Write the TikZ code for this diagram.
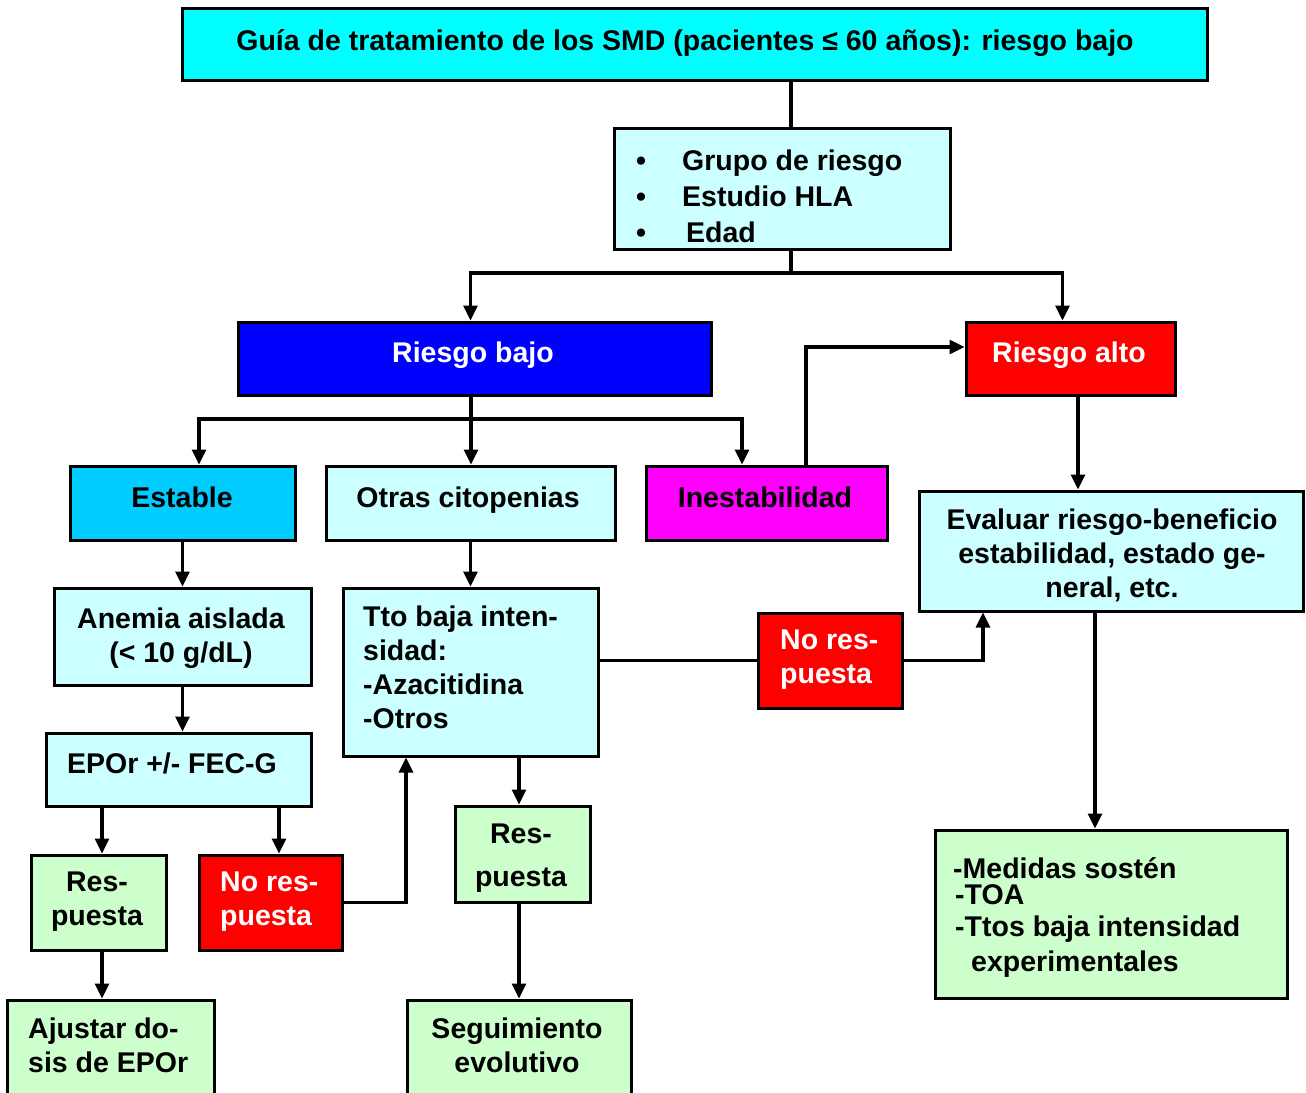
\documentclass[tikz,border=0pt]{standalone}
\usepackage{fontspec}
\setmainfont{Liberation Sans}
\usetikzlibrary{arrows.meta}
\definecolor{lcyan}{RGB}{204,255,255}
\definecolor{lgreen}{RGB}{204,255,204}
\definecolor{skyb}{RGB}{0,204,255}
\definecolor{pblue}{RGB}{0,0,255}
\definecolor{pred}{RGB}{255,0,0}
\definecolor{pmag}{RGB}{255,0,255}
\definecolor{pcyan}{RGB}{0,255,255}
\tikzset{
  box/.style={draw=black, line width=3pt, rectangle, inner sep=0pt},
  txt/.style={inner sep=0pt, font=\fontsize{28.5}{34}\selectfont\bfseries},
  wtxt/.style={txt, text=white},
  conn/.style={draw=black, line width=3.2pt},
  arr/.style={conn, -{Triangle[width=14pt,length=15pt]}},
}
\begin{document}
\begin{tikzpicture}[x=1pt,y=-1pt]
\useasboundingbox (0,0) rectangle (1306,1092);
\fill[white] (0,0) rectangle (1306,1092);
\clip (0,0) rectangle (1306,1092);
% boxes
\node[box, fill=pcyan, minimum width=1025, minimum height=72] (title) at (694.5,44) {};
\node[box, fill=lcyan, minimum width=336, minimum height=121] (grupo) at (782,188.5) {};
\node[box, fill=pblue, minimum width=473, minimum height=73] (rbajo) at (474.5,358.5) {};
\node[box, fill=pred, minimum width=209, minimum height=73] (ralto) at (1070.5,358.5) {};
\node[box, fill=skyb, minimum width=225, minimum height=74] (estable) at (182.5,503) {};
\node[box, fill=lcyan, minimum width=289, minimum height=74] (otras) at (470.5,503) {};
\node[box, fill=pmag, minimum width=241, minimum height=74] (inest) at (766.5,503) {};
\node[box, fill=lcyan, minimum width=384, minimum height=120] (evaluar) at (1111,551) {};
\node[box, fill=lcyan, minimum width=257, minimum height=97] (anemia) at (182.5,636.5) {};
\node[box, fill=lcyan, minimum width=265, minimum height=73] (epor) at (178.5,769.5) {};
\node[box, fill=lgreen, minimum width=135, minimum height=95] (resp1) at (98.5,902.5) {};
\node[box, fill=pred, minimum width=143, minimum height=95] (nores1) at (270.5,902.5) {};
\node[box, fill=lgreen, minimum width=207, minimum height=110] (ajustar) at (110.5,1055) {};
\node[box, fill=lcyan, minimum width=255, minimum height=168] (tto) at (470.5,672) {};
\node[box, fill=pred, minimum width=144, minimum height=95] (nores2) at (830,660.5) {};
\node[box, fill=lgreen, minimum width=135, minimum height=96] (resp2) at (522.5,854) {};
\node[box, fill=lgreen, minimum width=224, minimum height=110] (segui) at (519,1055) {};
\node[box, fill=lgreen, minimum width=352, minimum height=168] (medidas) at (1111,914) {};
% texts
\node[txt, anchor=base] (title-t) at (685,50) {Guía de tratamiento de los SMD (pacientes ≤ 60 años): riesgo bajo};
\node[txt, anchor=west, align=left] (grupo-t) at (636,196) {\makebox[46pt][l]{•}Grupo de riesgo\\[2pt]\makebox[46pt][l]{•}Estudio HLA\\[2pt]\makebox[50pt][l]{•}Edad};
\node[wtxt, anchor=base] (rbajo-t) at (473,362) {Riesgo bajo};
\node[wtxt, anchor=base] (ralto-t) at (1069,362) {Riesgo alto};
\node[txt, anchor=base] (estable-t) at (182,507) {Estable};
\node[txt, anchor=base] (otras-t) at (468,507) {Otras citopenias};
\node[txt, anchor=base] (inest-t) at (765,507) {Inestabilidad};
\node[txt, align=center] (evaluar-t) at (1112,555) {Evaluar riesgo-beneficio\\estabilidad, estado ge-\\neral, etc.};
\node[txt, align=center] (anemia-t) at (181,638) {Anemia aislada\\(< 10 g/dL)};
\node[txt, anchor=base] (epor-t) at (172,773) {EPOr +/- FEC-G};
\node[txt, align=center] (resp1-t) at (97,902) {Res-\\puesta};
\node[wtxt, align=left, anchor=west] (nores1-t) at (220,902) {No res-\\puesta};
\node[txt, align=left, anchor=west] (ajustar-t) at (28,1045) {Ajustar do-\\sis de EPOr};
\node[txt, align=left, anchor=west] (tto-t) at (363,667) {Tto baja inten-\\sidad:\\-Azacitidina\\-Otros};
\node[wtxt, align=left, anchor=west] (nores2-t) at (780,660) {No res-\\puesta};
\node[txt, align=center] (resp2-t) at (521,858) {Res-\\[9pt]puesta};
\node[txt, align=center] (segui-t) at (517,1045) {Seguimiento\\evolutivo};
\node[txt, align=left, anchor=west] (medidas-t) at (953,917) {-Medidas sostén\\[-8pt]\hspace*{2pt}-TOA\\[-2pt]\hspace*{2pt}-Ttos baja intensidad\\[1pt]\hspace*{18pt}experimentales};
% connectors
\coordinate (xa) at (791,273);
\coordinate (xb) at (471,419);
\coordinate (xe) at (1078,0);
\draw[conn] (title.south -| xa) -- (grupo.north -| xa);
\draw[conn] (grupo.south -| xa) -- (xa);
\draw[arr] (xa) -| ([xshift=-4]rbajo.north);
\draw[arr] (xa) -| ([xshift=-8]ralto.north);
\draw[conn] (rbajo.south -| xb) -- (xb);
\draw[arr] (xb) -| ([xshift=16.5]estable.north);
\draw[arr] (xb) -- (otras.north -| xb);
\draw[arr] (xb) -| ([xshift=-24.5]inest.north);
\draw[arr] ([xshift=39.5]inest.north) |- ([yshift=11.5]ralto.west);
\draw[arr] (ralto.south -| xe) -- (evaluar.north -| xe);
\draw[arr] (estable.south) -- (anemia.north);
\draw[arr] (anemia.south) -- (anemia.south |- epor.north);
\draw[arr] ([xshift=3.5]resp1.north |- epor.south) -- ([xshift=3.5]resp1.north);
\draw[arr] ([xshift=8.5]nores1.north |- epor.south) -- ([xshift=8.5]nores1.north);
\draw[arr] ([xshift=3.5]resp1.south) -- ([xshift=3.5]resp1.south |- ajustar.north);
\draw[arr] (nores1.east) -| ([xshift=-64.5]tto.south);
\draw[arr] (otras.south) -- (tto.north);
\draw[conn] (tto.east |- nores2.west) -- (nores2.west);
\draw[arr] (nores2.east) -| ([xshift=-128]evaluar.south);
\draw[arr] ([xshift=48.5]tto.south) -- ([xshift=-3.5]resp2.north);
\draw[arr] ([xshift=-3.5]resp2.south) -- ([xshift=-3.5]resp2.south |- segui.north);
\draw[arr] ([xshift=-16]evaluar.south) -- ([xshift=-16]evaluar.south |- medidas.north);
\end{tikzpicture}
\end{document}
